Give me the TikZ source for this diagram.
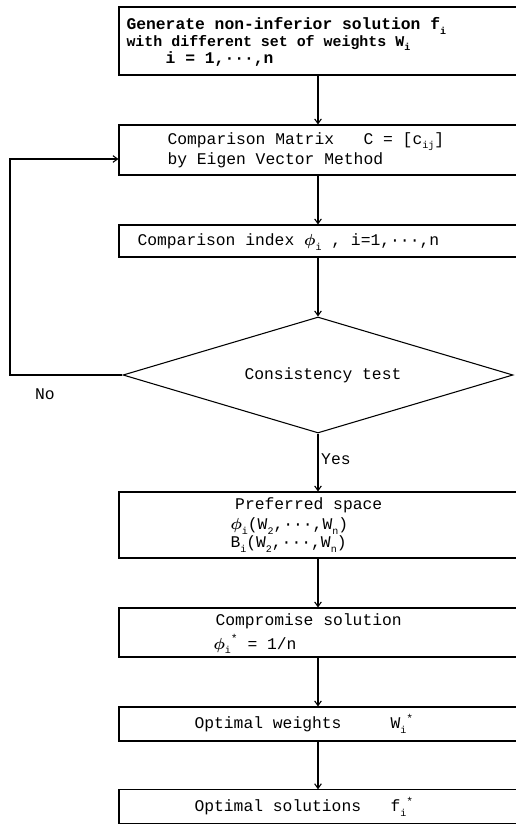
\documentclass[tikz,border=0pt]{standalone}
\usepackage{amsmath}
\usepackage{fontspec}
\setmonofont{Liberation Mono}
\usetikzlibrary{shapes.geometric,arrows.meta}
\newcommand{\subtt}[1]{\raisebox{-0.55ex}{\fontsize{7.5}{7.5}\selectfont #1}}
\newcommand{\suptt}[1]{\raisebox{0.75ex}{\fontsize{8.5}{8.5}\selectfont #1}}
\newcommand{\phisym}{$\boldsymbol{\phi}$}

\begin{document}
\begin{tikzpicture}[
  x=0.75pt,
  y=-0.75pt,
  line width=0.8pt,
  every node/.style={font=\ttfamily\fontsize{12.25}{10.5}\selectfont},
  stepbox/.style={
    draw,
    rectangle,
    minimum width=298.5pt,
    inner sep=0pt
  },
  steptext/.style={anchor=west, align=left, inner sep=0pt},
  decision/.style={
    draw,
    diamond,
    aspect=3.35,
    minimum width=292.5pt,
    minimum height=87pt,
    inner sep=0pt
  },
  flow/.style={-{Straight Barb[length=3.5pt,width=5pt]}}
]
  \useasboundingbox (0,0) rectangle (516,824);

  % process boxes
  \node[stepbox, minimum height=51pt] (gen) at (318,41) {};
  \node[stepbox, minimum height=37.5pt] (mat) at (318,150) {};
  \node[stepbox, minimum height=24pt] (idx) at (318,241) {};
  \node[decision] (test) at (318,375) {};
  \node[stepbox, minimum height=49.5pt] (pref) at (318,525) {};
  \node[stepbox, minimum height=36.75pt] (comp) at (318,632.5) {};
  \node[stepbox, minimum height=25.5pt] (wopt) at (318,724) {};
  \node[stepbox, minimum height=25pt] (fopt) at (318,806.5) {};

  % box texts
  \node[steptext, font=\ttfamily\bfseries\fontsize{12.25}{13}\selectfont] (genT) at (126,42)
    {Generate non-inferior solution f\subtt{i}\\
     {\fontsize{11.2}{13}\selectfont with different set of weights~W\subtt{i}}\\
     ~~~~i = 1,···,n};
  \node[steptext] (matT) at (167,150)
    {Comparison Matrix~~~C = [c\subtt{ij}]\\by Eigen Vector Method};
  \node[steptext] (idxT) at (137,242)
    {Comparison index \phisym\subtt{i} , i=1,···,n};
  \node (testT) at (323,375) {Consistency test};
  \node[steptext] (prefT) at (230,525)
    {\hspace*{3.5pt}Preferred space\\[3pt]
     \phisym\subtt{i}(W\subtt{2},···,W\subtt{n})\\
     B\subtt{i}(W\subtt{2},···,W\subtt{n})};
  \node[steptext] (compT) at (213,634)
    {\hspace*{1.5pt}Compromise solution\\[3pt]\phisym\subtt{i}\suptt{*} = 1/n};
  \node[steptext] (woptT) at (194,724) {Optimal weights~~~~~W\subtt{i}\suptt{*}};
  \node[steptext] (foptT) at (194,806.5) {Optimal solutions~~~f\subtt{i}\suptt{*}};

  % connectors
  \draw[flow] (gen.south) -- (mat.north);
  \draw[flow] (mat.south) -- (idx.north);
  \draw[flow] (idx.south) -- (test.north);
  \draw[flow] (test.south) -- node[pos=0.45, anchor=west, inner sep=2pt] (yes) {Yes} (pref.north);
  \draw[flow] (pref.south) -- (comp.north);
  \draw[flow] (comp.south) -- (wopt.north);
  \draw[flow] (wopt.south) -- (fopt.north);

  % back loop when the test fails
  \coordinate (loopL) at (10,159);
  \draw[flow] (test.west) -| (loopL) -- (mat.west |- loopL);
  \node (no) at (45,394) {No};
\end{tikzpicture}
\end{document}
